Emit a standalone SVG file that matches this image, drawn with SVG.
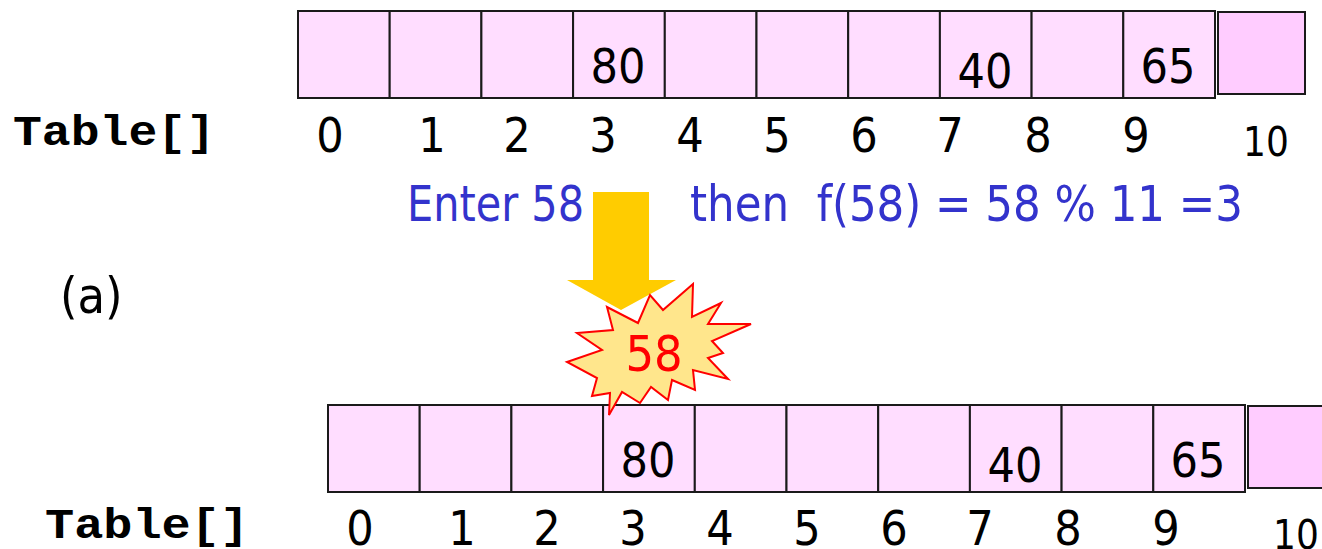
<svg xmlns="http://www.w3.org/2000/svg" width="1322" height="549" viewBox="0 0 1322 549">
<style>
.cell{fill:#FFDDFF;stroke:#1a1a1a;stroke-width:2}
.cellx{fill:#FFCCFF;stroke:#1a1a1a;stroke-width:2}
.num{font-family:"DejaVu Sans Condensed","DejaVu Sans",sans-serif;font-size:48px;fill:#000;text-anchor:middle}
.idx{font-family:"DejaVu Sans Condensed","DejaVu Sans",sans-serif;font-size:48px;fill:#000;text-anchor:middle}
.idx10{font-family:"DejaVu Sans Condensed","DejaVu Sans",sans-serif;font-size:40px;fill:#000;text-anchor:middle}
.lbl{font-family:"Liberation Mono","Courier New",monospace;font-weight:bold;font-size:42px;fill:#000}
.blue{font-family:"DejaVu Sans Condensed","DejaVu Sans",sans-serif;font-size:50px;fill:#3333CC}
</style>
<defs>
<g id="row">
<rect class="cell" x="0" y="0" width="91.7" height="87"/>
<rect class="cell" x="91.7" y="0" width="91.7" height="87"/>
<rect class="cell" x="183.4" y="0" width="91.7" height="87"/>
<rect class="cell" x="275.1" y="0" width="91.7" height="87"/>
<rect class="cell" x="366.8" y="0" width="91.7" height="87"/>
<rect class="cell" x="458.5" y="0" width="91.7" height="87"/>
<rect class="cell" x="550.2" y="0" width="91.7" height="87"/>
<rect class="cell" x="641.9" y="0" width="91.7" height="87"/>
<rect class="cell" x="733.6" y="0" width="91.7" height="87"/>
<rect class="cell" x="825.3" y="0" width="91.7" height="87"/>
<rect class="cellx" x="920" y="1" width="87" height="82"/>
<text class="num" x="320" y="72">80</text>
<text class="num" x="687" y="77">40</text>
<text class="num" x="870" y="72">65</text>
</g>
<g id="idxrow">
<text class="idx" x="0" y="0">0</text>
<text class="idx" x="102" y="0">1</text>
<text class="idx" x="187" y="0">2</text>
<text class="idx" x="273" y="0">3</text>
<text class="idx" x="360" y="0">4</text>
<text class="idx" x="447" y="0">5</text>
<text class="idx" x="534" y="0">6</text>
<text class="idx" x="620" y="0">7</text>
<text class="idx" x="708" y="0">8</text>
<text class="idx" x="806" y="0">9</text>
<text class="idx10" x="936" y="4">10</text>
</g>
</defs>
<g id="table-top">
<use href="#row" x="298" y="11"/>
<use href="#idxrow" x="330" y="152"/>
<text class="lbl" x="13" y="145" textLength="202" lengthAdjust="spacingAndGlyphs">Table[]</text>
</g>
<g id="caption">
<text class="blue" x="407" y="221" textLength="177" lengthAdjust="spacingAndGlyphs">Enter 58</text>
<text class="blue" x="690" y="221" textLength="553" lengthAdjust="spacingAndGlyphs" xml:space="preserve">then  f(58) = 58 % 11 =3</text>
</g>
<g id="label-a">
<text x="60" y="313" style="font-family:'DejaVu Sans Condensed','DejaVu Sans',sans-serif;font-size:50px;fill:#000">(a)</text>
</g>
<g id="arrow">
<polygon points="593,192 649,192 649,280 676,280 621,310 567,280 593,280" fill="#FFCC00"/>
</g>
<g id="table-bottom">
<use href="#row" x="328" y="405"/>
<use href="#idxrow" x="360" y="545"/>
<text class="lbl" x="45" y="538" textLength="204" lengthAdjust="spacingAndGlyphs">Table[]</text>
</g>
<g id="burst">
<polygon points="693,284 692,317 721,303 708,324 751,324 712,341 723,353 708,358 728,379 693,370 695,390 672,380 668,400 651,387 640,403 622,392 609,415 610,393 592,396 597,378 567,362 602,350 577,333 613,330 607,307 638,323 650,295 663,310" fill="#FFE68C" stroke="#FF0000" stroke-width="2" stroke-linejoin="miter"/>
<text x="654" y="371" style="font-family:'DejaVu Sans Condensed','DejaVu Sans',sans-serif;font-size:50px;fill:#FF0000;text-anchor:middle">58</text>
</g>
<g id="connectors"></g>
</svg>
